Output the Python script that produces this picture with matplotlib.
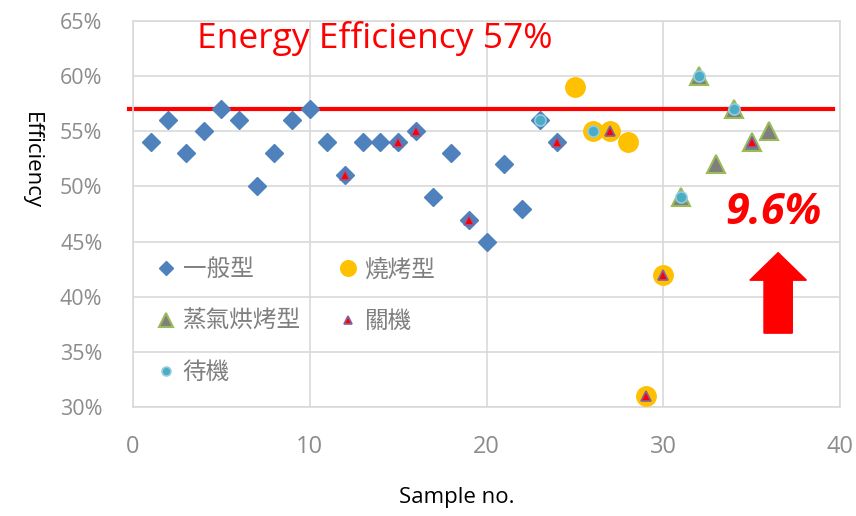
import numpy as np
import matplotlib.pyplot as plt
from matplotlib.patches import FancyArrow
from matplotlib.ticker import PercentFormatter

plt.rcParams.update({"font.family": ["Open Sans", "Noto Sans CJK TC", "DejaVu Sans"]})

# Efficiency (%) per sample, grouped by appliance mode
general_x = [1, 2, 3, 4, 5, 6, 7, 8, 9, 10, 11, 12, 13, 14, 15, 16, 17, 18, 19, 20, 21, 22, 23, 24]
general_y = [54, 56, 53, 55, 57, 56, 50, 53, 56, 57, 54, 51, 54, 54, 54, 55, 49, 53, 47, 45, 52, 48, 56, 54]

grill_x = [25, 26, 27, 28, 29, 30]
grill_y = [59, 55, 55, 54, 31, 42]

steam_x = [31, 32, 33, 34, 35, 36]
steam_y = [49, 60, 52, 57, 54, 55]

off_x = [12, 15, 16, 19, 24, 27, 29, 30, 35]
off_y = [51, 54, 55, 47, 54, 55, 31, 42, 54]

standby_x = [23, 26, 31, 32, 34]
standby_y = [56, 55, 49, 60, 57]

avg_eff = 57
gain = 9.6

fig = plt.figure(figsize=(8.56, 5.16), dpi=100)
ax = fig.add_axes([0.1554, 0.2112, 0.8259, 0.748])

h1, = ax.plot(general_x, general_y, 'D', ms=9, color='#4f81bd', mec='#4f81bd', label='一般型', zorder=3)
h2, = ax.plot(grill_x, grill_y, 'o', ms=14, color='#ffc000', mec='#ffc000', label='燒烤型', zorder=3)
h3, = ax.plot(steam_x, steam_y, '^', ms=13, color='#7f7f7f', mec='#9bbb59', mew=1.5, label='蒸氣烘烤型', zorder=3)
h4, = ax.plot(off_x, off_y, '^', ms=7, color='#ff0000', mec='#8064a2', mew=1.2, label='關機', zorder=5)
h5, = ax.plot(standby_x, standby_y, 'o', ms=8, color='#4bacc6', mec='#93cddd', mew=1.2, label='待機', zorder=4)

# average efficiency line
ax.plot([-0.2, 39.6], [avg_eff, avg_eff], color='#ff0000', lw=3, zorder=2, clip_on=False)
ax.text(3.6, 63.4, f'Energy Efficiency {avg_eff}%', color='#ff0000', fontsize=25.5, va='center')

ax.text(36.2, 47.6, f'{gain}%', color='#ff0000', fontsize=31, fontweight='bold',
        fontstyle='italic', ha='center', va='center')
ax.add_patch(FancyArrow(36.5, 36.7, 0, 7.3, width=1.6, head_width=3.2, head_length=2.5,
                        length_includes_head=True, color='#ff0000', zorder=6))

ax.set_xlim(0, 40)
ax.set_ylim(30, 65)
ax.set_xticks([0, 10, 20, 30, 40])
ax.set_yticks(np.arange(30, 66, 5))
ax.yaxis.set_major_formatter(PercentFormatter(decimals=0))
ax.grid(color='#d9d9d9', lw=1.2)
ax.set_axisbelow(True)
for s in ax.spines.values():
    s.set_color('#d9d9d9')
    s.set_linewidth(1.2)
ax.tick_params(length=0, colors='#8c8c8c', labelsize=15.5)
ax.tick_params(axis='x', pad=20, labelsize=17)
ax.tick_params(axis='y', pad=22)

fig.text(457 / 856, 1 - 497 / 516, 'Sample no.', fontsize=16, ha='center', va='center')
fig.text(31 / 856, 1 - 160 / 516, 'Efficiency', fontsize=16, rotation=270,
         ha='center', va='center')

leg = ax.legend([h1, h3, h5, h2, h4], ['一般型', '蒸氣烘烤型', '待機', '燒烤型', '關機'],
                ncol=2, loc='upper left', bbox_to_anchor=(0.0, 0.44), frameon=False,
                prop={'family': 'Noto Sans CJK TC', 'size': 17}, labelcolor='#7f7f7f',
                markerscale=0.8, handlelength=1.0, handletextpad=0.2,
                labelspacing=1.2, columnspacing=1.5)

fig.savefig('out.png', dpi=100)
